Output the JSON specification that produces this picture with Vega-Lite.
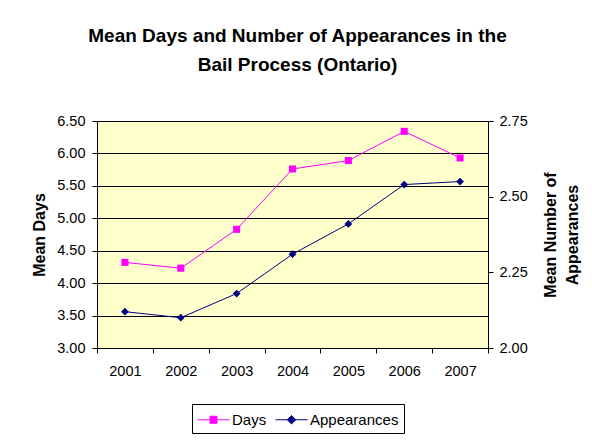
{
  "$schema": "https://vega.github.io/schema/vega-lite/v6.json",
  "width": 391,
  "height": 227,
  "padding": {"left": 31, "top": 27, "right": 5, "bottom": 5},
  "background": "white",
  "title": {
    "text": ["Mean Days and Number of Appearances in the", "Bail Process (Ontario)"],
    "fontSize": 19,
    "fontWeight": "bold",
    "lineHeight": 29,
    "anchor": "middle",
    "offset": 38,
    "dx": 5,
    "color": "black"
  },
  "data": {
    "values": [
      {"year": "2001", "days": 4.32, "appearances": 2.12},
      {"year": "2002", "days": 4.23, "appearances": 2.10},
      {"year": "2003", "days": 4.83, "appearances": 2.18},
      {"year": "2004", "days": 5.76, "appearances": 2.31},
      {"year": "2005", "days": 5.89, "appearances": 2.41},
      {"year": "2006", "days": 6.34, "appearances": 2.54},
      {"year": "2007", "days": 5.93, "appearances": 2.55}
    ]
  },
  "encoding": {
    "x": {
      "field": "year",
      "type": "ordinal",
      "scale": {"paddingInner": 0, "paddingOuter": 0},
      "axis": {
        "title": null,
        "labelAngle": 0,
        "tickBand": "extent",
        "tickSize": 5,
        "labelPadding": 11,
        "labelFontSize": 14.5,
        "labelColor": "black",
        "domainColor": "black",
        "tickColor": "black",
        "grid": false
      }
    },
    "color": {
      "datum": "Days",
      "type": "nominal",
      "scale": {"domain": ["Days", "Appearances"], "range": ["#FF00FF", "#000080"]},
      "legend": {
        "title": null,
        "orient": "none",
        "direction": "horizontal",
        "legendX": 95,
        "legendY": 283,
        "strokeColor": "black",
        "fillColor": "white",
        "padding": 5,
        "labelFontSize": 15,
        "labelColor": "black",
        "labelOffset": 8,
        "symbolOffset": 6,
        "columnPadding": 6,
        "symbolSize": 400,
        "symbolStrokeWidth": 1,
        "encode": {
          "symbols": {
            "update": {
              "shape": {"signal": "datum.value === 'Days' ? 'M-1.6,0H1.6M-0.35,-0.35H0.35V0.35H-0.35Z' : 'M-1.6,0H1.6M0,-0.42L0.42,0L0,0.42L-0.42,0Z'"},
              "fill": {"signal": "datum.value === 'Days' ? '#FF00FF' : '#000080'"},
              "stroke": {"signal": "datum.value === 'Days' ? '#FF00FF' : '#000080'"},
              "strokeWidth": {"value": 1},
              "size": {"value": 400},
              "opacity": {"value": 1},
              "fillOpacity": {"value": 1}
            }
          }
        }
      }
    }
  },
  "layer": [
    {
      "encoding": {
        "y": {
          "field": "days",
          "type": "quantitative",
          "scale": {"domain": [3, 6.5], "nice": false, "zero": false},
          "axis": {
            "title": "Mean Days",
            "values": [3, 3.5, 4, 4.5, 5, 5.5, 6, 6.5],
            "format": ".2f",
            "grid": true,
            "gridColor": "black",
            "gridOpacity": 1,
            "tickSize": 5,
            "labelPadding": 7,
            "labelFontSize": 14.5,
            "labelColor": "black",
            "titleFontSize": 16,
            "titleFontWeight": "bold",
            "titleColor": "black",
            "titlePadding": 9,
            "domainColor": "black",
            "tickColor": "black"
          }
        },
        "color": {"datum": "Days", "type": "nominal"}
      },
      "layer": [
        {"mark": {"type": "line", "strokeWidth": 1}},
        {"mark": {"type": "point", "shape": "square", "filled": true, "size": 50, "opacity": 1}}
      ]
    },
    {
      "encoding": {
        "y": {
          "field": "appearances",
          "type": "quantitative",
          "scale": {"domain": [2, 2.75], "nice": false, "zero": false},
          "axis": {
            "orient": "right",
            "title": ["Mean Number of", "Appearances"],
            "titleAngle": -90,
            "values": [2, 2.25, 2.5, 2.75],
            "format": ".2f",
            "grid": false,
            "tickSize": 5,
            "labelPadding": 6,
            "labelFontSize": 14.5,
            "labelColor": "black",
            "titleFontSize": 16,
            "titleFontWeight": "bold",
            "titleColor": "black",
            "titlePadding": 9,
            "titleLineHeight": 22,
            "domainColor": "black",
            "tickColor": "black"
          }
        },
        "color": {"datum": "Appearances", "type": "nominal"}
      },
      "layer": [
        {"mark": {"type": "line", "strokeWidth": 1}},
        {"mark": {"type": "point", "shape": "diamond", "filled": true, "size": 60, "opacity": 1}}
      ]
    }
  ],
  "resolve": {"scale": {"y": "independent"}},
  "config": {
    "font": "Liberation Sans",
    "view": {"fill": "#FFFFCC", "stroke": null}
  }
}
